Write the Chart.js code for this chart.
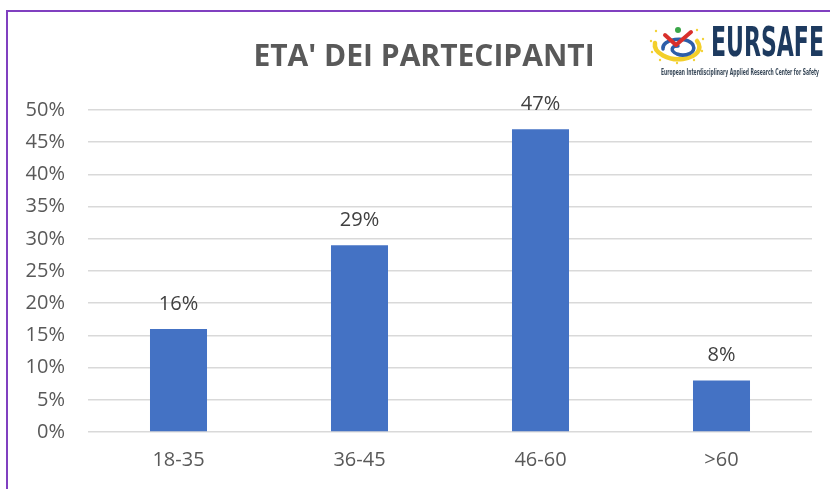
<!DOCTYPE html>
<html>
<head>
<meta charset="utf-8">
<script src="https://cdn.jsdelivr.net/npm/chart.js@4"></script>
<style>
  html,body{margin:0;padding:0;background:#fff;width:830px;height:489px;overflow:hidden;}
  #wrap{position:relative;width:830px;height:489px;}
  #frame{position:absolute;left:6px;top:10px;width:900px;height:600px;border:2px solid #8040c0;box-sizing:border-box;pointer-events:none;}
  canvas{position:absolute;left:0;top:0;}
  .fit{position:absolute;font-family:"DejaVu Sans Condensed","DejaVu Sans",sans-serif;font-weight:bold;white-space:nowrap;transform-origin:left top;line-height:1;}
  #brand{left:711px;top:22px;font-size:41px;color:#1d3a5f;}
  #sub{left:661px;top:68px;font-size:8.5px;color:#3a4a5a;}
</style>
</head>
<body>
<div id="wrap">
  <canvas id="c" width="830" height="489"></canvas>
  <div id="frame"></div>
  <svg width="60" height="45" viewBox="0 0 60 45" style="position:absolute;left:647px;top:21px;">
    <g fill="#f2d23a">
      <circle cx="9" cy="10" r="1.2"/><circle cx="4" cy="20" r="1.2"/><circle cx="5" cy="31" r="1.2"/>
      <circle cx="13" cy="39" r="1.2"/><circle cx="47" cy="39" r="1.2"/><circle cx="55" cy="30" r="1.2"/>
      <circle cx="56" cy="18" r="1.2"/><circle cx="50" cy="9" r="1.2"/><circle cx="30" cy="42" r="1.2"/>
    </g>
    <path d="M8 22 C6 32 22 40 36 38 C50 36 56 28 50 20" fill="none" stroke="#f3cf2a" stroke-width="4.5" stroke-linecap="round"/>
    <path d="M16 28 C14 18 40 14 46 24 C50 32 38 36 30 33 C23 30 24 25 31 25" fill="none" stroke="#2d5ea8" stroke-width="3.5" stroke-linecap="round"/>
    <path d="M18 14 L29 24 L44 11" fill="none" stroke="#d9302c" stroke-width="4" stroke-linejoin="round" stroke-linecap="round"/>
    <circle cx="31" cy="9" r="3" fill="#3aa648"/>
  </svg>
  <div id="brand" class="fit" data-w="113">EURSAFE</div>
  <div id="sub" class="fit" data-w="158">European Interdisciplinary Applied Research Center for Safety</div>
</div>
<script>
document.querySelectorAll('.fit').forEach(el => {
  const w = el.getBoundingClientRect().width;
  el.style.transform = 'scaleX(' + (parseFloat(el.dataset.w) / w) + ')';
});

const categories = ["18-35", "36-45", "46-60", ">60"];
const values = [0.16, 0.29, 0.47, 0.08];
const valueLabels = ["16%", "29%", "47%", "8%"];
const titleText = "ETA' DEI PARTECIPANTI";

const FONT = "'Open Sans', sans-serif";

const titlePlugin = {
  id: 'titleText',
  afterDraw(chart) {
    const ctx = chart.ctx;
    ctx.save();
    ctx.font = "bold 30px " + FONT;
    ctx.fillStyle = "#595959";
    ctx.textAlign = "center";
    ctx.textBaseline = "alphabetic";
    ctx.fillText(titleText, 424, 66);
    ctx.restore();
  }
};

const labelPlugin = {
  id: 'valueLabels',
  afterDatasetsDraw(chart) {
    const ctx = chart.ctx;
    const meta = chart.getDatasetMeta(0);
    ctx.save();
    ctx.font = "20px " + FONT;
    ctx.fillStyle = "#404040";
    ctx.textAlign = "center";
    ctx.textBaseline = "alphabetic";
    meta.data.forEach((bar, i) => {
      ctx.fillText(valueLabels[i], bar.x, bar.y - 19);
    });
    ctx.restore();
  }
};

new Chart(document.getElementById('c'), {
  type: 'bar',
  data: {
    labels: categories,
    datasets: [{
      data: values,
      backgroundColor: '#4472c4',
      borderWidth: 0,
      categoryPercentage: 1,
      barPercentage: 0.315
    }]
  },
  options: {
    responsive: false,
    animation: false,
    layout: { padding: { top: 110, right: 18, left: 0, bottom: 0 } },
    plugins: { legend: { display: false }, tooltip: { enabled: false }, title: { display: false } },
    scales: {
      x: {
        grid: { display: false, drawTicks: false },
        border: { display: false },
        ticks: { color: '#595959', font: { family: FONT, size: 20 }, padding: 16 },
        afterFit(s) { s.height = 57; }
      },
      y: {
        min: 0, max: 0.5,
        grid: { color: '#d9d9d9', lineWidth: 1.5, drawTicks: false },
        border: { display: false },
        ticks: {
          stepSize: 0.05,
          color: '#595959',
          font: { family: FONT, size: 20 },
          padding: 23,
          callback: v => Math.round(v * 100) + '%'
        },
        afterFit(s) { s.width = 88; }
      }
    }
  },
  plugins: [titlePlugin, labelPlugin]
});
</script>
</body>
</html>
